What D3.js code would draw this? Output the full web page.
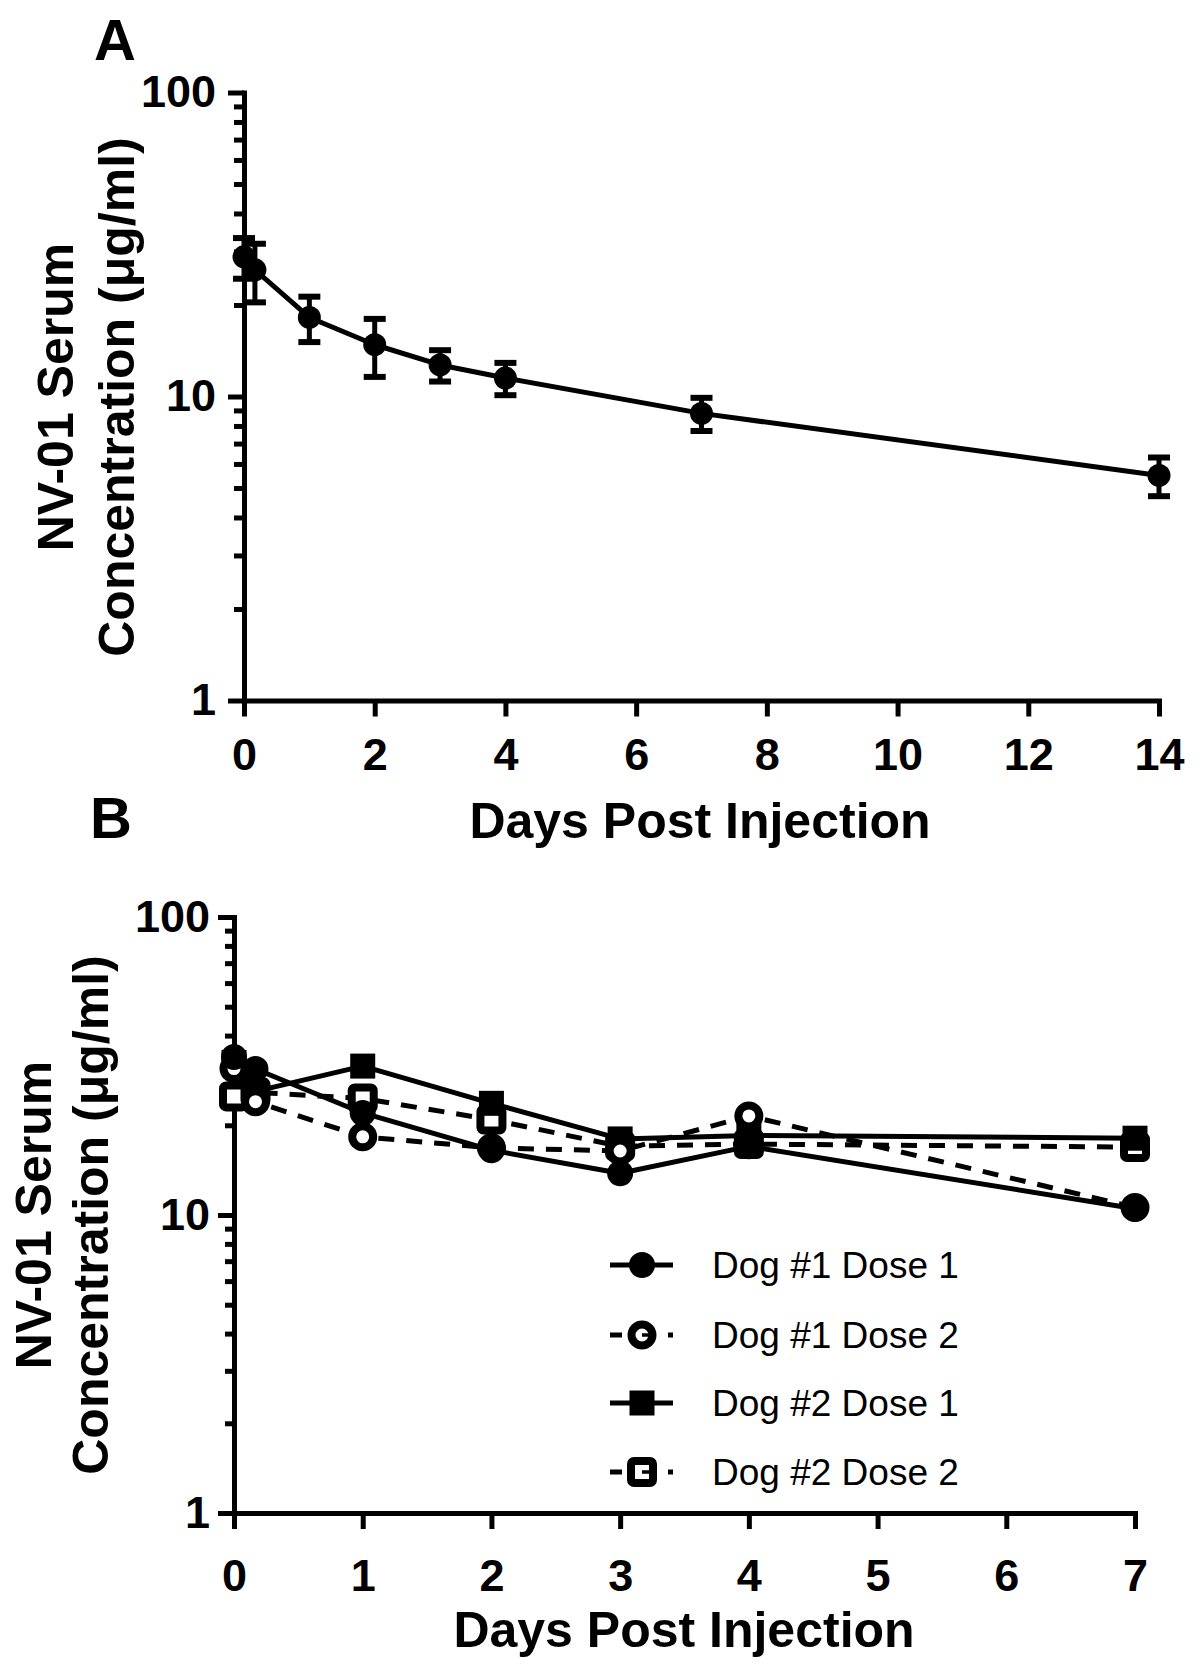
<!DOCTYPE html>
<html>
<head>
<meta charset="utf-8">
<script src="https://cdn.jsdelivr.net/npm/d3@7/dist/d3.min.js"></script>
<style>
  html, body { margin: 0; padding: 0; background: #fff; }
  svg { display: block; }
</style>
</head>
<body>
<svg id="chart" width="1200" height="1671"></svg>
<script>
// ---------------- DATA ----------------
// Panel A: mean serum concentration with error bars
const daysA = [0, 0.167, 1, 2, 3, 4, 7, 14];
const meanA = [28.8, 26.1, 18.2, 14.8, 12.7, 11.5, 8.8, 5.5];
const errA  = [4.4, 5.7, 3.1, 3.2, 1.5, 1.4, 1.1, 0.8];
const xTicksA = [0, 2, 4, 6, 8, 10, 12, 14];

// Panel B: individual dogs / doses
const daysB = [0, 0.167, 1, 2, 3, 4, 7];
const dog1Dose1 = [33.9, 30.9, 22.0, 16.5, 13.8, 17.0, 10.5];
const dog1Dose2 = [31.0, 24.0, 18.3, 16.8, 16.4, 21.5, 10.6];
const dog2Dose1 = [32.5, 26.0, 31.6, 23.7, 18.0, 18.5, 18.1];
const dog2Dose2 = [25.0, 25.8, 24.6, 20.9, 17.0, 17.3, 16.9];
const seriesNames = ["Dog #1 Dose 1", "Dog #1 Dose 2", "Dog #2 Dose 1", "Dog #2 Dose 2"];
const xTicksB = [0, 1, 2, 3, 4, 5, 6, 7];

const yMajor = [1, 10, 100];
const yMinor = [2,3,4,5,6,7,8,9,20,30,40,50,60,70,80,90];
const yLabel1 = "NV-01 Serum";
const yLabel2 = "Concentration (\u03BCg/ml)";
const xLabel = "Days Post Injection";

// ---------------- DRAW ----------------
const FONT = "'Liberation Sans', Arial, Helvetica, sans-serif";
const svg = d3.select("#chart");

function styleAxis(g, fs, bold) {
  g.attr("font-family", FONT).attr("font-size", fs).attr("font-weight", bold ? "bold" : "normal");
  g.selectAll(".domain").attr("stroke", "#000").attr("stroke-width", 5).attr("stroke-linecap", "square");
  g.selectAll(".tick line").attr("stroke", "#000").attr("stroke-width", 5);
  g.selectAll(".tick text").attr("fill", "#000");
}

function panel(cfg) {
  const x = d3.scaleLinear().domain(cfg.xDomain).range([cfg.x0, cfg.x1]);
  const y = d3.scaleLog().domain([1, 100]).range([cfg.y1, cfg.y0]);

  // minor y ticks
  const gMin = svg.append("g").attr("transform", `translate(${cfg.x0},0)`)
    .call(d3.axisLeft(y).tickValues(yMinor).tickSize(cfg.minorLen).tickFormat(""));
  styleAxis(gMin, 10, true);
  gMin.select(".domain").remove();

  // major y ticks with labels
  const gY = svg.append("g").attr("transform", `translate(${cfg.x0},0)`)
    .call(d3.axisLeft(y).tickValues(yMajor).tickSize(cfg.majorLen).tickSizeOuter(0)
      .tickPadding(cfg.yPad).tickFormat(d3.format("d")));
  styleAxis(gY, cfg.tickFs, true);

  // x axis
  const gX = svg.append("g").attr("transform", `translate(0,${cfg.y1})`)
    .call(d3.axisBottom(x).tickValues(cfg.xTicks).tickSize(cfg.xTickLen).tickSizeOuter(0)
      .tickPadding(cfg.xPad).tickFormat(d3.format("d")));
  styleAxis(gX, cfg.tickFs, true);

  // axis titles
  svg.append("text").attr("x", cfg.xTitleX).attr("y", cfg.xTitleY)
    .attr("text-anchor", "middle").attr("font-family", FONT).attr("font-weight", "bold")
    .attr("font-size", 50).text(xLabel);
  [[cfg.yl1x, yLabel1], [cfg.yl2x, yLabel2]].forEach(([lx, t]) => {
    svg.append("text").attr("transform", `translate(${lx},${cfg.ylY}) rotate(-90)`)
      .attr("text-anchor", "middle").attr("font-family", FONT).attr("font-weight", "bold")
      .attr("font-size", 50).text(t);
  });
  // panel letter
  svg.append("text").attr("x", cfg.letterX).attr("y", cfg.letterY)
    .attr("font-family", FONT).attr("font-weight", "bold").attr("font-size", 58).text(cfg.letter);
  return {x, y};
}

// ---------- Panel A ----------
const A = panel({
  xDomain: [0, 14], x0: 244, x1: 1159, y0: 92.5, y1: 700.5,
  minorLen: 10, majorLen: 16, yPad: 12, xTickLen: 16, xPad: 22, tickFs: 45,
  xTicks: xTicksA, xTitleX: 700, xTitleY: 838, yl1x: 73, yl2x: 134, ylY: 397,
  letter: "A", letterX: 94, letterY: 60
});
const gA = svg.append("g");
gA.append("path").datum(daysA.map((d, i) => [d, meanA[i]]))
  .attr("fill", "none").attr("stroke", "#000").attr("stroke-width", 5)
  .attr("stroke-linejoin", "round")
  .attr("d", d3.line().x(d => A.x(d[0])).y(d => A.y(d[1])));
daysA.forEach((d, i) => {
  const cx = A.x(d), yt = A.y(meanA[i] + errA[i]), yb = A.y(meanA[i] - errA[i]);
  gA.append("line").attr("x1", cx).attr("x2", cx).attr("y1", yt).attr("y2", yb)
    .attr("stroke", "#000").attr("stroke-width", 5);
  [yt, yb].forEach(yy => gA.append("line").attr("x1", cx - 11).attr("x2", cx + 11)
    .attr("y1", yy).attr("y2", yy).attr("stroke", "#000").attr("stroke-width", 6));
  gA.append("circle").attr("cx", cx).attr("cy", A.y(meanA[i])).attr("r", 11.5).attr("fill", "#000");
});

// ---------- Panel B ----------
const B = panel({
  xDomain: [0, 7], x0: 234, x1: 1135, y0: 917, y1: 1513,
  minorLen: 9, majorLen: 16, yPad: 8, xTickLen: 16, xPad: 30, tickFs: 45,
  xTicks: xTicksB, xTitleX: 684, xTitleY: 1647, yl1x: 51, yl2x: 108, ylY: 1215,
  letter: "B", letterX: 90, letterY: 838
});

const seriesB = [
  {name: seriesNames[0], vals: dog1Dose1, shape: "circle", filled: true,  dash: null},
  {name: seriesNames[1], vals: dog1Dose2, shape: "circle", filled: false, dash: "16 12"},
  {name: seriesNames[2], vals: dog2Dose1, shape: "square", filled: true,  dash: null},
  {name: seriesNames[3], vals: dog2Dose2, shape: "square", filled: false, dash: "16 12"}
];

function marker(g, s, cx, cy) {
  if (s.shape === "circle") {
    if (s.filled) g.append("circle").attr("cx", cx).attr("cy", cy).attr("r", 13).attr("fill", "#000");
    else g.append("circle").attr("cx", cx).attr("cy", cy).attr("r", 10.5)
      .attr("fill", "#fff").attr("stroke", "#000").attr("stroke-width", 8);
  } else {
    if (s.filled) g.append("rect").attr("x", cx - 12.5).attr("y", cy - 12.5).attr("width", 25).attr("height", 25).attr("fill", "#000");
    else g.append("rect").attr("x", cx - 11).attr("y", cy - 11).attr("width", 22).attr("height", 22).attr("rx", 3)
      .attr("fill", "#fff").attr("stroke", "#000").attr("stroke-width", 8);
  }
}

const gB = svg.append("g");
const lineB = d3.line().x((d, i) => B.x(daysB[i])).y(d => B.y(d));
seriesB.slice().reverse().forEach(s => {
  const p = gB.append("path").datum(s.vals).attr("fill", "none").attr("stroke", "#000")
    .attr("stroke-width", 5).attr("stroke-linejoin", "round").attr("d", lineB);
  if (s.dash) p.attr("stroke-dasharray", s.dash);
  s.vals.forEach((v, i) => marker(gB, s, B.x(daysB[i]), B.y(v)));
});

// legend
const legRows = [1265, 1335, 1403, 1472];
const gL = svg.append("g");
seriesB.forEach((s, i) => {
  const cy = legRows[i];
  const ln = gL.append("line").attr("x1", 610).attr("x2", 673).attr("y1", cy).attr("y2", cy)
    .attr("stroke", "#000").attr("stroke-width", 5);
  if (s.dash) ln.attr("stroke-dasharray", "12 46 5");
  marker(gL, s, 642, cy);
  if (!s.filled) gL.append("line").attr("x1", 642).attr("x2", 650).attr("y1", cy).attr("y2", cy)
    .attr("stroke", "#000").attr("stroke-width", 3.5);
  gL.append("text").attr("x", 712).attr("y", cy + 13).attr("font-family", FONT)
    .attr("font-size", 37).attr("fill", "#000").text(s.name);
});
</script>
</body>
</html>
